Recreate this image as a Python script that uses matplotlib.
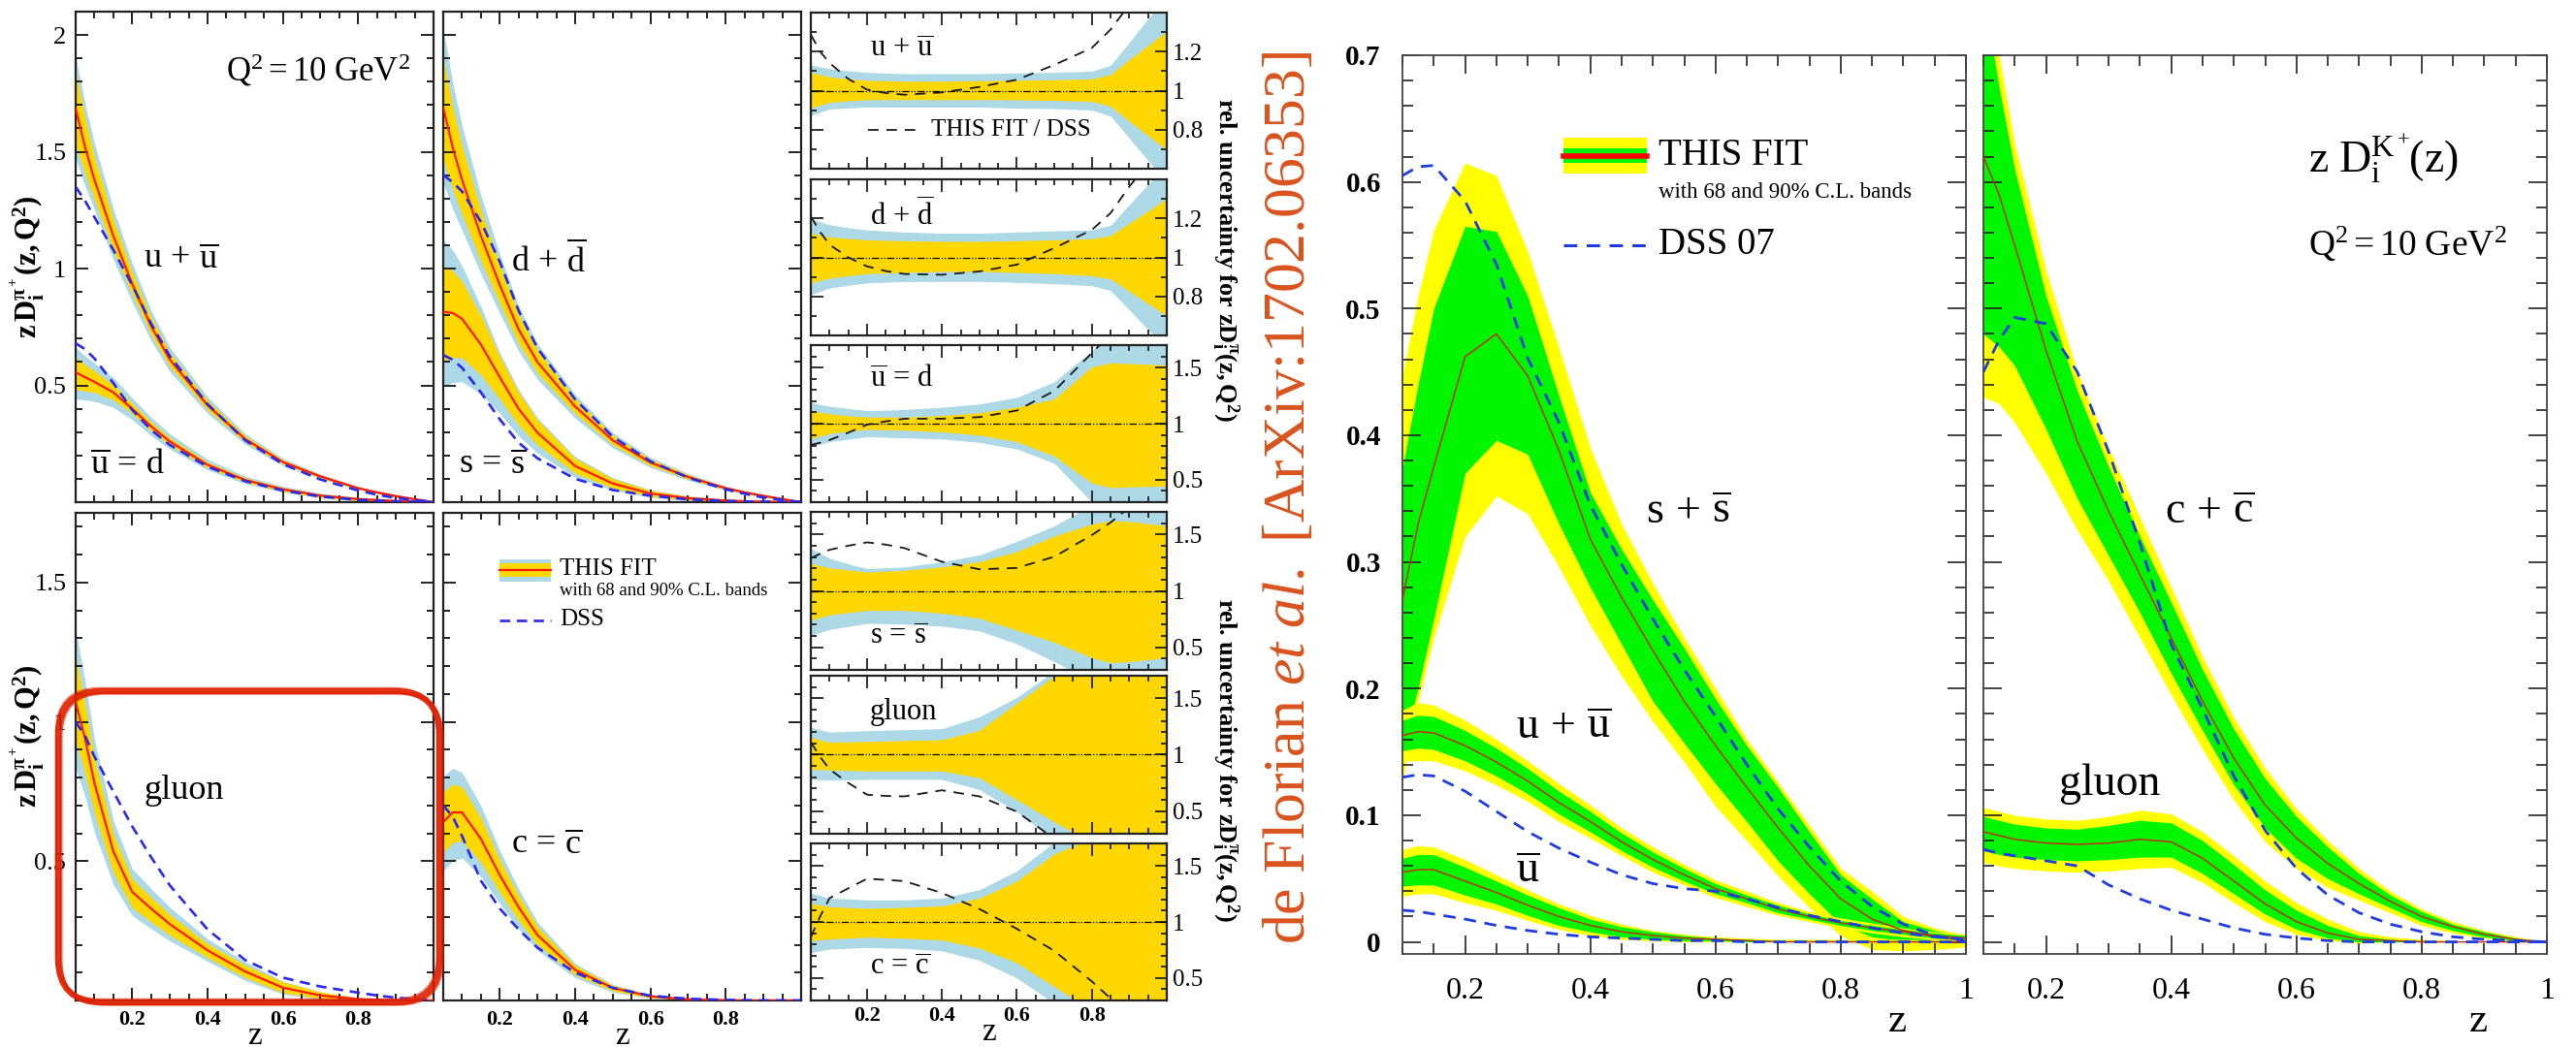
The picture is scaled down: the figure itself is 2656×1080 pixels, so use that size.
import numpy as np
import matplotlib
matplotlib.use("Agg")
import matplotlib.pyplot as plt
from matplotlib.ticker import MultipleLocator
from matplotlib.patches import FancyBboxPatch, Rectangle

plt.rcParams['font.family'] = ['Liberation Serif', 'DejaVu Serif']
plt.rcParams['mathtext.fontset'] = 'custom'
plt.rcParams['mathtext.rm'] = 'Liberation Serif'
plt.rcParams['mathtext.it'] = 'Liberation Serif:italic'
plt.rcParams['mathtext.bf'] = 'Liberation Serif:bold'

# ---------------- pion fragmentation functions, Q^2 = 10 GeV^2 ----------------
Z_PI = [0.05, 0.075, 0.1, 0.15, 0.2, 0.25, 0.3, 0.4, 0.5, 0.6, 0.7, 0.8, 0.85, 0.9, 1.0]

pi_uu_fit = [1.685, 1.52, 1.38, 1.14, 0.935, 0.755, 0.61, 0.415, 0.27, 0.172, 0.11, 0.06, 0.042, 0.026, 0.0]
pi_uu_dss = [1.35, 1.29, 1.22, 1.08, 0.93, 0.765, 0.625, 0.42, 0.265, 0.163, 0.097, 0.05, 0.032, 0.018, 0.0]
pi_dd_fit = [1.69, 1.52, 1.38, 1.14, 0.93, 0.74, 0.60, 0.41, 0.265, 0.17, 0.108, 0.06, 0.042, 0.027, 0.0]
pi_dd_dss = [1.40, 1.37, 1.33, 1.20, 1.03, 0.82, 0.66, 0.44, 0.28, 0.175, 0.105, 0.055, 0.036, 0.02, 0.0]
pi_ubd_fit = [0.556, 0.535, 0.515, 0.47, 0.40, 0.325, 0.26, 0.16, 0.095, 0.055, 0.028, 0.013, 0.009, 0.005, 0.0]
pi_ubd_dss = [0.68, 0.655, 0.615, 0.51, 0.395, 0.31, 0.245, 0.152, 0.09, 0.05, 0.024, 0.01, 0.006, 0.003, 0.0]
pi_ss_fit = [0.815, 0.81, 0.785, 0.675, 0.535, 0.40, 0.298, 0.155, 0.08, 0.037, 0.017, 0.007, 0.004, 0.002, 0.0]
pi_ss_dss = [0.63, 0.61, 0.575, 0.47, 0.355, 0.255, 0.188, 0.10, 0.052, 0.028, 0.012, 0.005, 0.003, 0.002, 0.0]
pi_g_fit = [1.07, 0.94, 0.78, 0.535, 0.39, 0.33, 0.274, 0.18, 0.104, 0.046, 0.018, 0.005, 0.002, 0.001, 0.0]
pi_g_dss = [1.0, 0.95, 0.875, 0.75, 0.625, 0.515, 0.413, 0.255, 0.145, 0.082, 0.05, 0.028, 0.018, 0.01, 0.0]
pi_c_fit = [0.64, 0.675, 0.675, 0.58, 0.45, 0.335, 0.235, 0.11, 0.045, 0.015, 0.004, 0.001, 0.0, 0.0, 0.0]
pi_c_dss = [0.70, 0.66, 0.59, 0.43, 0.33, 0.255, 0.19, 0.1, 0.045, 0.017, 0.006, 0.002, 0.001, 0.0, 0.0]

# relative uncertainty bands (68% = y, 90% = b) and THIS FIT / DSS
rel_uu_y_hi = [1.094, 1.081, 1.070, 1.06, 1.053, 1.05, 1.048, 1.048, 1.051, 1.053, 1.056, 1.060, 1.082, 1.159, 1.304]
rel_uu_y_lo = [0.911, 0.926, 0.94, 0.948, 0.954, 0.954, 0.954, 0.954, 0.954, 0.953, 0.950, 0.945, 0.92, 0.843, 0.697]
rel_uu_b_hi = [1.133, 1.122, 1.113, 1.102, 1.094, 1.09, 1.087, 1.087, 1.087, 1.091, 1.094, 1.1, 1.13, 1.248, 1.49]
rel_uu_b_lo = [0.872, 0.89, 0.906, 0.911, 0.916, 0.916, 0.916, 0.916, 0.916, 0.91, 0.908, 0.9, 0.87, 0.756, 0.526]
ratio_uu = [1.287, 1.2, 1.142, 1.06, 1.005, 0.988, 0.979, 0.991, 1.019, 1.056, 1.132, 1.219, 1.313, 1.44, 1.7]

rel_dd_y_hi = [1.124, 1.113, 1.104, 1.096, 1.09, 1.087, 1.085, 1.082, 1.082, 1.085, 1.09, 1.095, 1.112, 1.175, 1.3]
rel_dd_y_lo = [0.869, 0.882, 0.894, 0.906, 0.917, 0.92, 0.923, 0.928, 0.928, 0.923, 0.917, 0.906, 0.889, 0.826, 0.7]
rel_dd_b_hi = [1.2, 1.182, 1.167, 1.152, 1.141, 1.135, 1.13, 1.124, 1.124, 1.13, 1.136, 1.141, 1.165, 1.27, 1.48]
rel_dd_b_lo = [0.809, 0.826, 0.843, 0.857, 0.869, 0.873, 0.876, 0.877, 0.877, 0.872, 0.865, 0.855, 0.83, 0.731, 0.53]
ratio_dd = [1.21, 1.13, 1.065, 1.0, 0.954, 0.93, 0.915, 0.911, 0.928, 0.963, 1.048, 1.141, 1.227, 1.363, 1.6]

rel_ubd_y_hi = [1.117, 1.1, 1.088, 1.07, 1.058, 1.058, 1.058, 1.073, 1.096, 1.146, 1.219, 1.506, 1.541, 1.535, 1.523]
rel_ubd_y_lo = [0.868, 0.89, 0.912, 0.932, 0.95, 0.946, 0.942, 0.927, 0.898, 0.839, 0.711, 0.471, 0.43, 0.436, 0.444]
rel_ubd_b_hi = [1.19, 1.17, 1.155, 1.135, 1.117, 1.12, 1.126, 1.146, 1.175, 1.234, 1.374, 1.649, 1.79, 1.92, 2.18]
rel_ubd_b_lo = [0.795, 0.817, 0.839, 0.862, 0.883, 0.878, 0.874, 0.863, 0.833, 0.775, 0.646, 0.301, 0.129, -0.04, -0.39]
ratio_ubd = [0.81, 0.83, 0.854, 0.92, 0.991, 1.02, 1.044, 1.044, 1.058, 1.117, 1.292, 1.629, 1.8, 1.95, 2.2]

rel_ss_y_hi = [1.242, 1.222, 1.203, 1.185, 1.167, 1.175, 1.182, 1.212, 1.258, 1.348, 1.485, 1.591, 1.621, 1.615, 1.576]
rel_ss_y_lo = [0.742, 0.765, 0.788, 0.808, 0.827, 0.827, 0.827, 0.803, 0.758, 0.652, 0.545, 0.409, 0.364, 0.373, 0.409]
rel_ss_b_hi = [1.379, 1.333, 1.288, 1.24, 1.197, 1.205, 1.212, 1.258, 1.318, 1.439, 1.576, 1.76, 1.85, 1.93, 2.1]
rel_ss_b_lo = [0.606, 0.632, 0.658, 0.685, 0.712, 0.709, 0.706, 0.688, 0.645, 0.53, 0.373, 0.206, 0.12, 0.045, -0.12]
ratio_ss = [1.288, 1.33, 1.364, 1.4, 1.43, 1.41, 1.379, 1.258, 1.191, 1.203, 1.303, 1.494, 1.606, 1.74, 2.0]

rel_g_y_hi = [1.156, 1.13, 1.111, 1.114, 1.117, 1.121, 1.126, 1.132, 1.216, 1.456, 1.697, 1.922, 2.04, 2.16, 2.4]
rel_g_y_lo = [0.871, 0.868, 0.865, 0.86, 0.856, 0.856, 0.856, 0.856, 0.796, 0.601, 0.405, 0.225, 0.135, 0.045, -0.135]
rel_g_b_hi = [1.246, 1.22, 1.201, 1.207, 1.213, 1.218, 1.222, 1.231, 1.336, 1.508, 1.742, 2.04, 2.2, 2.35, 2.7]
rel_g_b_lo = [0.781, 0.778, 0.775, 0.778, 0.781, 0.781, 0.781, 0.781, 0.691, 0.495, 0.24, -0.1, -0.25, -0.4, -0.7]
ratio_g = [1.111, 0.98, 0.871, 0.75, 0.646, 0.635, 0.631, 0.685, 0.631, 0.495, 0.255, 0.0, -0.1, -0.2, -0.4]

rel_c_y_hi = [1.167, 1.15, 1.136, 1.128, 1.121, 1.125, 1.13, 1.142, 1.212, 1.364, 1.606, 1.742, 1.85, 1.95, 2.1]
rel_c_y_lo = [0.833, 0.84, 0.848, 0.856, 0.864, 0.86, 0.855, 0.839, 0.767, 0.636, 0.424, 0.212, 0.1, 0.0, -0.2]
rel_c_b_hi = [1.258, 1.235, 1.212, 1.205, 1.197, 1.197, 1.197, 1.212, 1.288, 1.455, 1.712, 1.9, 2.0, 2.1, 2.3]
rel_c_b_lo = [0.727, 0.742, 0.758, 0.765, 0.773, 0.768, 0.764, 0.742, 0.658, 0.5, 0.273, 0.0, -0.15, -0.3, -0.6]
ratio_c = [0.864, 1.05, 1.212, 1.3, 1.385, 1.375, 1.364, 1.258, 1.115, 0.939, 0.742, 0.47, 0.318, 0.17, -0.1]

PI_XTICKS = [0.2, 0.4, 0.6, 0.8]
PI_XLABELS = ['0.2', '0.4', '0.6', '0.8']

# ---------------- kaon fragmentation functions ----------------
Z_K = [0.1, 0.125, 0.15, 0.2, 0.25, 0.3, 0.35, 0.4, 0.45, 0.5, 0.55, 0.6, 0.65, 0.7, 0.75, 0.8, 0.85, 0.9, 0.95, 1.0]

k_s_fit = [0.27, 0.33, 0.375, 0.462, 0.48, 0.447, 0.388, 0.318, 0.272, 0.23, 0.19, 0.155, 0.122, 0.09, 0.06, 0.034, 0.018, 0.009, 0.004, 0.001]
k_s_y_hi = [0.447, 0.51, 0.562, 0.615, 0.605, 0.545, 0.469, 0.39, 0.33, 0.283, 0.24, 0.2, 0.16, 0.126, 0.092, 0.058, 0.04, 0.02, 0.011, 0.005]
k_s_g_hi = [0.374, 0.44, 0.5, 0.565, 0.561, 0.51, 0.431, 0.355, 0.31, 0.27, 0.232, 0.192, 0.155, 0.122, 0.087, 0.053, 0.034, 0.016, 0.009, 0.004]
k_s_g_lo = [0.153, 0.2, 0.255, 0.37, 0.396, 0.385, 0.33, 0.28, 0.235, 0.19, 0.157, 0.125, 0.095, 0.064, 0.038, 0.014, 0.004, 0.001, 0.0, 0.0]
k_s_y_lo = [0.127, 0.19, 0.24, 0.32, 0.352, 0.338, 0.296, 0.25, 0.21, 0.174, 0.142, 0.107, 0.08, 0.052, 0.027, 0.005, -0.006, -0.007, -0.006, -0.004]
k_s_dss = [0.605, 0.612, 0.613, 0.585, 0.535, 0.461, 0.41, 0.345, 0.298, 0.255, 0.215, 0.178, 0.14, 0.105, 0.075, 0.048, 0.028, 0.014, 0.005, 0.0]

k_u_fit = [0.163, 0.166, 0.165, 0.155, 0.142, 0.127, 0.11, 0.095, 0.079, 0.065, 0.053, 0.042, 0.034, 0.026, 0.02, 0.015, 0.011, 0.008, 0.005, 0.003]
k_u_y_hi = [0.183, 0.189, 0.187, 0.175, 0.16, 0.143, 0.125, 0.108, 0.09, 0.075, 0.061, 0.049, 0.04, 0.031, 0.024, 0.019, 0.015, 0.011, 0.008, 0.006]
k_u_g_hi = [0.175, 0.179, 0.178, 0.167, 0.153, 0.137, 0.119, 0.103, 0.086, 0.071, 0.058, 0.046, 0.037, 0.029, 0.022, 0.017, 0.013, 0.01, 0.007, 0.005]
k_u_g_lo = [0.151, 0.153, 0.152, 0.143, 0.131, 0.117, 0.101, 0.087, 0.072, 0.059, 0.048, 0.038, 0.031, 0.023, 0.018, 0.013, 0.009, 0.006, 0.003, 0.001]
k_u_y_lo = [0.143, 0.143, 0.143, 0.135, 0.124, 0.111, 0.095, 0.082, 0.068, 0.055, 0.045, 0.035, 0.028, 0.021, 0.016, 0.011, 0.007, 0.004, 0.002, 0.0]
k_u_dss = [0.13, 0.132, 0.131, 0.119, 0.103, 0.087, 0.074, 0.063, 0.053, 0.046, 0.042, 0.04, 0.034, 0.027, 0.021, 0.016, 0.011, 0.007, 0.004, 0.002]

k_ub_fit = [0.055, 0.057, 0.057, 0.048, 0.039, 0.029, 0.02, 0.013, 0.008, 0.005, 0.003, 0.002, 0.001, 0.0, 0.0, 0.0, 0.0, 0.0, 0.0, 0.0]
k_ub_y_hi = [0.073, 0.076, 0.075, 0.065, 0.053, 0.041, 0.03, 0.021, 0.014, 0.009, 0.006, 0.004, 0.003, 0.002, 0.002, 0.002, 0.002, 0.002, 0.002, 0.002]
k_ub_g_hi = [0.066, 0.069, 0.069, 0.059, 0.048, 0.037, 0.027, 0.018, 0.012, 0.008, 0.005, 0.003, 0.002, 0.001, 0.001, 0.001, 0.001, 0.001, 0.001, 0.001]
k_ub_g_lo = [0.044, 0.045, 0.045, 0.037, 0.03, 0.021, 0.013, 0.008, 0.004, 0.002, 0.001, 0.001, 0.0, 0.0, 0.0, 0.0, 0.0, 0.0, 0.0, 0.0]
k_ub_y_lo = [0.036, 0.038, 0.038, 0.031, 0.025, 0.017, 0.01, 0.005, 0.002, 0.001, 0.0, 0.0, 0.0, 0.0, 0.0, 0.0, 0.0, 0.0, 0.0, 0.0]
k_ub_dss = [0.025, 0.024, 0.022, 0.018, 0.013, 0.009, 0.006, 0.004, 0.003, 0.002, 0.001, 0.001, 0.0, 0.0, 0.0, 0.0, 0.0, 0.0, 0.0, 0.0]

k_c_fit = [0.62, 0.59, 0.55, 0.467, 0.395, 0.34, 0.29, 0.24, 0.19, 0.145, 0.108, 0.082, 0.062, 0.046, 0.032, 0.02, 0.012, 0.006, 0.002, 0.0]
k_c_y_hi = [0.78, 0.70, 0.63, 0.53, 0.45, 0.39, 0.335, 0.28, 0.225, 0.177, 0.137, 0.105, 0.08, 0.058, 0.04, 0.026, 0.016, 0.009, 0.004, 0.0]
k_c_g_hi = [0.75, 0.675, 0.61, 0.51, 0.435, 0.375, 0.32, 0.268, 0.215, 0.168, 0.129, 0.099, 0.075, 0.054, 0.037, 0.024, 0.014, 0.008, 0.003, 0.0]
k_c_g_lo = [0.48, 0.47, 0.455, 0.405, 0.35, 0.305, 0.26, 0.212, 0.167, 0.124, 0.09, 0.066, 0.05, 0.038, 0.027, 0.016, 0.009, 0.004, 0.001, 0.0]
k_c_y_lo = [0.43, 0.425, 0.41, 0.37, 0.325, 0.285, 0.24, 0.195, 0.152, 0.112, 0.079, 0.058, 0.043, 0.033, 0.023, 0.013, 0.007, 0.003, 0.0, 0.0]
k_c_dss = [0.45, 0.475, 0.493, 0.488, 0.45, 0.387, 0.315, 0.235, 0.184, 0.131, 0.088, 0.058, 0.037, 0.023, 0.014, 0.008, 0.004, 0.002, 0.001, 0.0]

k_g_fit = [0.087, 0.084, 0.081, 0.078, 0.077, 0.078, 0.081, 0.079, 0.066, 0.048, 0.03, 0.016, 0.007, 0.002, 0.001, 0.0, 0.0, 0.0, 0.0, 0.0]
k_g_y_hi = [0.106, 0.103, 0.1, 0.097, 0.096, 0.099, 0.104, 0.101, 0.087, 0.068, 0.048, 0.031, 0.018, 0.008, 0.004, 0.002, 0.001, 0.0, 0.0, 0.0]
k_g_g_hi = [0.099, 0.096, 0.093, 0.09, 0.089, 0.092, 0.096, 0.094, 0.08, 0.061, 0.041, 0.025, 0.013, 0.005, 0.002, 0.001, 0.0, 0.0, 0.0, 0.0]
k_g_g_lo = [0.072, 0.069, 0.067, 0.065, 0.064, 0.065, 0.067, 0.067, 0.054, 0.038, 0.022, 0.01, 0.003, 0.0, 0.0, 0.0, 0.0, 0.0, 0.0, 0.0]
k_g_y_lo = [0.063, 0.06, 0.058, 0.056, 0.055, 0.056, 0.058, 0.059, 0.047, 0.031, 0.016, 0.006, 0.001, -0.001, 0.0, 0.0, 0.0, 0.0, 0.0, 0.0]
k_g_dss = [0.073, 0.07, 0.068, 0.064, 0.06, 0.045, 0.034, 0.025, 0.018, 0.011, 0.006, 0.003, 0.001, 0.0, 0.0, 0.0, 0.0, 0.0, 0.0, 0.0]

K_XTICKS = [0.2, 0.4, 0.6, 0.8, 1.0]
K_XLABELS = ['0.2', '0.4', '0.6', '0.8', '1']
K_YTICKS = [0.0, 0.1, 0.2, 0.3, 0.4, 0.5, 0.6, 0.7]
K_YLABELS = ['0', '0.1', '0.2', '0.3', '0.4', '0.5', '0.6', '0.7']

# colours
PI_YELLOW = '#FFD700'
PI_BLUE = '#ADD8E6'
PI_RED = '#FF1A00'
PI_DSS = '#2828F0'
K_YELLOW = '#FFFF00'
K_GREEN = '#00F500'
K_RED = '#D02010'
K_DSS = '#1E3CE0'

W, H = 2656, 1080
fig = plt.figure(figsize=(W / 100, H / 100), dpi=100)


def rect(x0, y0, x1, y1):
    # pixel box measured from the top-left corner -> figure fraction
    return [x0 / W, 1 - y1 / H, (x1 - x0) / W, (y1 - y0) / H]


def pion_frame(ax, ymax, yticks, ylabels, xlabels):
    ax.set_xlim(0.05, 1.0)
    ax.set_ylim(0, ymax)
    ax.xaxis.set_minor_locator(MultipleLocator(0.05))
    ax.yaxis.set_minor_locator(MultipleLocator(0.1))
    if xlabels:
        ax.set_xticks(PI_XTICKS, PI_XLABELS, fontsize=16, fontweight='bold')
    else:
        ax.set_xticks(PI_XTICKS, [])
    if ylabels:
        ax.set_yticks(yticks, ylabels, fontsize=19)
    else:
        ax.set_yticks(yticks, [])
    ax.tick_params(which='both', direction='in', top=True, right=True, width=1.4, color='#222222')
    ax.tick_params(which='major', length=9.5, pad=7)
    ax.tick_params(which='minor', length=5)
    for sp in ax.spines.values():
        sp.set_linewidth(1.6)
        sp.set_color('#222222')


def pion_bands(ax, fit, rel):
    y_hi, y_lo, b_hi, b_lo = [np.array(r) for r in rel]
    f = np.array(fit)
    ax.fill_between(Z_PI, f * b_lo, f * b_hi, color=PI_BLUE, lw=0)
    ax.fill_between(Z_PI, f * y_lo, f * y_hi, color=PI_YELLOW, lw=0)


def pion_lines(ax, fit, dss):
    ax.plot(Z_PI, fit, color=PI_RED, lw=1.6, zorder=4)
    ax.plot(Z_PI, dss, color=PI_DSS, lw=1.9, dashes=(4, 2.6), zorder=5)


def math_label(ax, x, y, s, size):
    ax.text(x, y, s, transform=ax.transAxes, fontsize=size, ha='left', va='center', zorder=6)


REL_UU = (rel_uu_y_hi, rel_uu_y_lo, rel_uu_b_hi, rel_uu_b_lo)
REL_DD = (rel_dd_y_hi, rel_dd_y_lo, rel_dd_b_hi, rel_dd_b_lo)
REL_UBD = (rel_ubd_y_hi, rel_ubd_y_lo, rel_ubd_b_hi, rel_ubd_b_lo)
REL_SS = (rel_ss_y_hi, rel_ss_y_lo, rel_ss_b_hi, rel_ss_b_lo)
REL_G = (rel_g_y_hi, rel_g_y_lo, rel_g_b_hi, rel_g_b_lo)
REL_C = (rel_c_y_hi, rel_c_y_lo, rel_c_b_hi, rel_c_b_lo)

UBAR = r'\overline{\mathrm{u}}'
L_UU = r'$\mathrm{u}\,+\,' + UBAR + '$'
L_DD = r'$\mathrm{d}\,+\,\overline{\mathrm{d}}$'
L_UBD = '$' + UBAR + r'\,=\,\mathrm{d}$'
L_SS = r'$\mathrm{s}\,=\,\overline{\mathrm{s}}$'
L_CC = r'$\mathrm{c}\,=\,\overline{\mathrm{c}}$'

# top-left: u+ubar and ubar=d
axA = fig.add_axes(rect(78, 12, 447, 518))
pion_bands(axA, pi_uu_fit, REL_UU)
pion_bands(axA, pi_ubd_fit, REL_UBD)
pion_lines(axA, pi_uu_fit, pi_uu_dss)
pion_lines(axA, pi_ubd_fit, pi_ubd_dss)
pion_frame(axA, 2.1, [0.5, 1.0, 1.5, 2.0], ['0.5', '1', '1.5', '2'], False)
math_label(axA, 0.19, 0.493, L_UU, 26)
math_label(axA, 0.04, 0.075, L_UBD, 26)
math_label(axA, 0.42, 0.88, r'$\mathrm{Q^2 = 10\ GeV^2}$', 25)

# top-middle: d+dbar and s=sbar
axB = fig.add_axes(rect(457, 12, 826, 518))
pion_bands(axB, pi_dd_fit, REL_DD)
pion_bands(axB, pi_ss_fit, REL_SS)
pion_lines(axB, pi_dd_fit, pi_dd_dss)
pion_lines(axB, pi_ss_fit, pi_ss_dss)
pion_frame(axB, 2.1, [0.5, 1.0, 1.5, 2.0], None, False)
math_label(axB, 0.19, 0.493, L_DD, 26)
math_label(axB, 0.043, 0.075, L_SS, 26)

# bottom-left: gluon
axC = fig.add_axes(rect(78, 529, 447, 1032))
pion_bands(axC, pi_g_fit, REL_G)
pion_lines(axC, pi_g_fit, pi_g_dss)
pion_frame(axC, 1.75, [0.5, 1.0, 1.5], ['0.5', '1', '1.5'], True)
math_label(axC, 0.19, 0.43, 'gluon', 26)
axC.set_xlabel('z', fontsize=24, labelpad=-6)

# bottom-middle: charm
axD = fig.add_axes(rect(457, 529, 826, 1032))
pion_bands(axD, pi_c_fit, REL_C)
pion_lines(axD, pi_c_fit, pi_c_dss)
pion_frame(axD, 1.75, [0.5, 1.0, 1.5], None, True)
math_label(axD, 0.19, 0.318, L_CC, 26)
axD.set_xlabel('z', fontsize=24, labelpad=-6)

# legend swatch for the pion panels
axD.add_patch(Rectangle((0.157, 0.859), 0.143, 0.046, transform=axD.transAxes, color=PI_BLUE, lw=0))
axD.add_patch(Rectangle((0.157, 0.868), 0.143, 0.028, transform=axD.transAxes, color=PI_YELLOW, lw=0))
axD.plot([0.157, 0.300], [0.882, 0.882], transform=axD.transAxes, color=PI_RED, lw=1.6)
axD.plot([0.157, 0.300], [0.779, 0.779], transform=axD.transAxes, color=PI_DSS, lw=1.9, dashes=(4, 2.6))
axD.text(0.325, 0.885, 'THIS FIT', transform=axD.transAxes, fontsize=18, va='center')
axD.text(0.325, 0.840, 'with 68 and 90% C.L. bands', transform=axD.transAxes, fontsize=13.5, va='center')
axD.text(0.325, 0.781, 'DSS', transform=axD.transAxes, fontsize=18, va='center')

fig.text(0.0105, 0.745, r'$\mathbf{z\,D_i^{\pi^+}(z,Q^2)}$', rotation=90, fontsize=22, ha='center', va='center')
fig.text(0.0105, 0.297, r'$\mathbf{z\,D_i^{\pi^+}(z,Q^2)}$', rotation=90, fontsize=22, ha='center', va='center')

# relative uncertainty column
ratio_rows = [
    (13, 174, REL_UU, ratio_uu, L_UU, 0.76, 'tight'),
    (185, 346, REL_DD, ratio_dd, L_DD, 0.77, 'tight'),
    (356, 518, REL_UBD, ratio_ubd, L_UBD, 0.78, 'wide'),
    (528, 691, REL_SS, ratio_ss, L_SS, 0.21, 'wide'),
    (697, 860, REL_G, ratio_g, 'gluon', 0.77, 'wide'),
    (870, 1032, REL_C, ratio_c, L_CC, 0.21, 'wide'),
]
for i, (y0, y1, rel, ratio, label, ly, kind) in enumerate(ratio_rows):
    ax = fig.add_axes(rect(836, y0, 1203, y1))
    y_hi, y_lo, b_hi, b_lo = rel
    ax.fill_between(Z_PI, b_lo, b_hi, color=PI_BLUE, lw=0)
    ax.fill_between(Z_PI, y_lo, y_hi, color=PI_YELLOW, lw=0)
    ax.plot(Z_PI, ratio, color='#1a1a1a', lw=1.3, dashes=(6, 4.5), zorder=4)
    ax.axhline(1.0, color='black', lw=0.9, dashes=(6, 1.5, 1, 1.5, 1, 1.5), zorder=5)
    ax.set_xlim(0.05, 1.0)
    if kind == 'tight':
        ax.set_ylim(0.6, 1.4)
        ax.set_yticks([0.8, 1.0, 1.2], ['0.8', '1', '1.2'], fontsize=18)
    else:
        ax.set_ylim(0.3, 1.7)
        ax.set_yticks([0.5, 1.0, 1.5], ['0.5', '1', '1.5'], fontsize=18)
    ax.yaxis.set_minor_locator(MultipleLocator(0.1))
    ax.xaxis.set_minor_locator(MultipleLocator(0.05))
    if i == len(ratio_rows) - 1:
        ax.set_xticks(PI_XTICKS, PI_XLABELS, fontsize=16, fontweight='bold')
        ax.set_xlabel('z', fontsize=24, labelpad=-6)
    else:
        ax.set_xticks(PI_XTICKS, [])
    ax.tick_params(which='both', direction='in', top=True, right=True, left=True,
                   labelleft=False, labelright=True, width=1.3, color='#222222')
    ax.tick_params(which='major', length=9, pad=4)
    ax.tick_params(which='minor', length=4.5)
    for sp in ax.spines.values():
        sp.set_linewidth(1.6)
        sp.set_color('#222222')
    ax.text(0.166, ly, label, transform=ax.transAxes, fontsize=22, va='center')
    if i == 0:
        ax.plot([0.16, 0.305], [0.25, 0.25], transform=ax.transAxes, color='#1a1a1a', lw=1.3, dashes=(6, 4.5))
        ax.text(0.338, 0.25, 'THIS FIT / DSS', transform=ax.transAxes, fontsize=18, va='center')

for yc in (0.752, 0.274):
    fig.text(0.4755, yc, r'rel. uncertainty for $\mathbf{zD_i^{\pi}(z,Q^2)}$', rotation=270,
             fontsize=19, fontweight='bold', ha='center', va='center')

# citation running up the middle
fig.text(0.501, 0.5245, r'de Florian $\mathit{et\ al.}$ [ArXiv:1702.06353]', rotation=90,
         fontsize=44.5, color='#D9531E', ha='center', va='center')

# hand-drawn highlight around the gluon panel
for dx, dy, lw, a in [(0.0, 0.0, 4.5, 0.9), (0.03, -0.02, 2.2, 0.7), (-0.02, 0.03, 1.8, 0.6)]:
    fig.add_artist(FancyBboxPatch((0.60 + dx, 0.46 + dy), 3.93, 3.21,
                                  boxstyle='round,pad=0,rounding_size=0.45',
                                  transform=fig.dpi_scale_trans, fill=False,
                                  ec='#E02000', lw=lw, alpha=a, zorder=10))


# ---------------- kaon panels ----------------
def kaon_frame(ax, ylabels):
    ax.set_xlim(0.1, 1.0)
    ax.set_ylim(-0.0095, 0.7)
    ax.set_xticks(K_XTICKS, K_XLABELS, fontsize=23)
    if ylabels:
        ax.set_yticks(K_YTICKS, K_YLABELS, fontsize=21, fontweight='bold')
    else:
        ax.set_yticks(K_YTICKS, [])
    ax.xaxis.set_minor_locator(MultipleLocator(0.05))
    ax.yaxis.set_minor_locator(MultipleLocator(0.02))
    ax.tick_params(which='both', direction='in', top=True, right=True, width=1.2, color='#222222')
    ax.tick_params(which='major', length=14)
    ax.tick_params(which='minor', length=8)
    ax.tick_params(axis='x', pad=17)
    ax.tick_params(axis='y', pad=16)
    for sp in ax.spines.values():
        sp.set_linewidth(1.3)
        sp.set_color('#444444')
    ax.text(0.878, -0.075, 'z', transform=ax.transAxes, fontsize=31, ha='center', va='center')


def kaon_bands(ax, y_lo, y_hi, g_lo, g_hi):
    ax.fill_between(Z_K, y_lo, y_hi, color=K_YELLOW, lw=0)
    ax.fill_between(Z_K, g_lo, g_hi, color=K_GREEN, lw=0)


def kaon_lines(ax, fit, dss):
    ax.plot(Z_K, fit, color=K_RED, lw=1.0, zorder=4)
    ax.plot(Z_K, dss, color=K_DSS, lw=2.0, dashes=(4.5, 3.2), zorder=5)


K_SS = r'$\mathrm{s}\,+\,\overline{\mathrm{s}}$'
K_CC = r'$\mathrm{c}\,+\,\overline{\mathrm{c}}$'

axE = fig.add_axes(rect(1446, 57, 2027, 984))
kaon_bands(axE, k_s_y_lo, k_s_y_hi, k_s_g_lo, k_s_g_hi)
kaon_bands(axE, k_u_y_lo, k_u_y_hi, k_u_g_lo, k_u_g_hi)
kaon_bands(axE, k_ub_y_lo, k_ub_y_hi, k_ub_g_lo, k_ub_g_hi)
kaon_lines(axE, k_s_fit, k_s_dss)
kaon_lines(axE, k_u_fit, k_u_dss)
kaon_lines(axE, k_ub_fit, k_ub_dss)
kaon_frame(axE, True)
math_label(axE, 0.432, 0.491, K_SS, 33)
math_label(axE, 0.201, 0.252, L_UU, 33)
math_label(axE, 0.201, 0.091, '$' + UBAR + '$', 33)

# legend swatch for the kaon panels
axE.add_patch(Rectangle((0.286, 0.868), 0.148, 0.040, transform=axE.transAxes, color=K_YELLOW, lw=0))
axE.add_patch(Rectangle((0.286, 0.880), 0.148, 0.016, transform=axE.transAxes, color=K_GREEN, lw=0))
axE.plot([0.286, 0.434], [0.888, 0.888], transform=axE.transAxes, color='#FF0000', lw=4)
axE.plot([0.286, 0.434], [0.789, 0.789], transform=axE.transAxes, color=K_DSS, lw=2.2, dashes=(4.5, 3.2))
axE.text(0.454, 0.888, 'THIS FIT', transform=axE.transAxes, fontsize=28, va='center')
axE.text(0.454, 0.847, 'with 68 and 90% C.L. bands', transform=axE.transAxes, fontsize=16.5, va='center')
axE.text(0.454, 0.789, 'DSS 07', transform=axE.transAxes, fontsize=28, va='center')

axF = fig.add_axes(rect(2045, 57, 2626, 984))
kaon_bands(axF, k_c_y_lo, k_c_y_hi, k_c_g_lo, k_c_g_hi)
kaon_bands(axF, k_g_y_lo, k_g_y_hi, k_g_g_lo, k_g_g_hi)
kaon_lines(axF, k_c_fit, k_c_dss)
kaon_lines(axF, k_g_fit, k_g_dss)
kaon_frame(axF, False)
math_label(axF, 0.322, 0.491, K_CC, 33)
math_label(axF, 0.134, 0.189, 'gluon', 33)
math_label(axF, 0.577, 0.885, r'$\mathrm{z\ D_i^{K^+}\!(z)}$', 33)
math_label(axF, 0.577, 0.790, r'$\mathrm{Q^2{=}10\ GeV^2}$', 27)

fig.savefig('out.png', dpi=100)
